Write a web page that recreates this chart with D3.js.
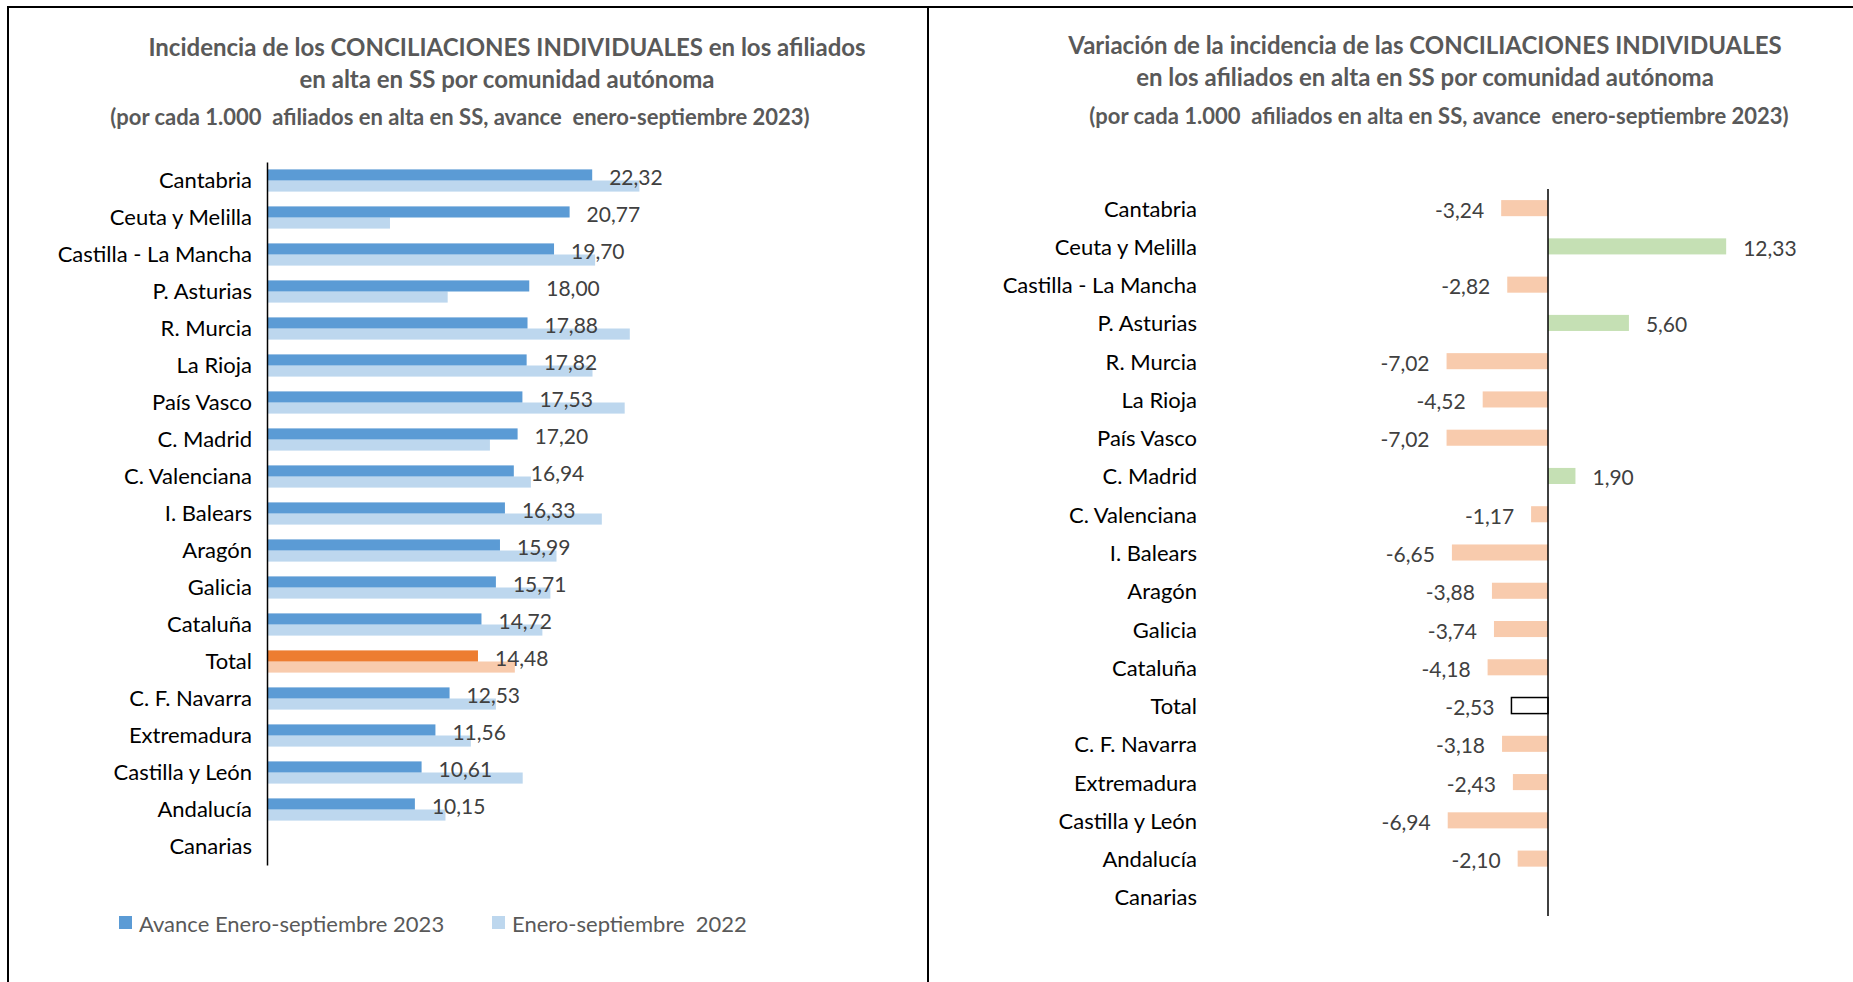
<!DOCTYPE html>
<html>
<head>
<meta charset="utf-8">
<script src="https://cdn.jsdelivr.net/npm/d3@7"></script>
<style>
  body { margin: 0; background: #fff; }
  text { font-family: Lato, "Noto Sans", sans-serif; white-space: pre; }
</style>
</head>
<body>
<div id="main"></div>
<script>
// categories, top to bottom
const regions = ["Cantabria", "Ceuta y Melilla", "Castilla - La Mancha", "P. Asturias", "R. Murcia",
    "La Rioja", "País Vasco", "C. Madrid", "C. Valenciana", "I. Balears", "Aragón", "Galicia",
    "Cataluña", "Total", "C. F. Navarra", "Extremadura", "Castilla y León", "Andalucía", "Canarias"];
// incidence Jan-Sep 2023 (null = no data)
const values2023 = [22.32, 20.77, 19.70, 18.00, 17.88, 17.82, 17.53, 17.20, 16.94, 16.33, 15.99, 15.71,
    14.72, 14.48, 12.53, 11.56, 10.61, 10.15, null];
// incidence Jan-Sep 2022
const values2022 = [25.56, 8.44, 22.52, 12.40, 24.90, 22.34, 24.55, 15.30, 18.11, 22.98, 19.87, 19.45,
    18.90, 17.01, 15.71, 13.99, 17.55, 12.25, null];
// variation 2023 vs 2022
const variation = [-3.24, 12.33, -2.82, 5.60, -7.02, -4.52, -7.02, 1.90, -1.17, -6.65, -3.88, -3.74,
    -4.18, -2.53, -3.18, -2.43, -6.94, -2.10, null];
const legendLabels = ["Avance Enero-septiembre 2023", "Enero-septiembre  2022"];

const ctx = {
    width: 1853,
    height: 982,
    darkBlue: "#5b9bd5",
    lightBlue: "#bdd7ee",
    orange: "#ed7d31",
    lightOrange: "#f8cbad",
    green: "#c5e0b4",
    titleGrey: "#595959",
    valueGrey: "#404040",
    labelSize: "22px",
    valueSize: "21px"
};

const fmt = v => d3.format(".2f")(v).replace(".", ",").replace("\u2212", "-");

function createViz(){
    let svg = d3.select("#main").append("svg")
        .attr("width", ctx.width)
        .attr("height", ctx.height);

    // frames
    svg.append("path")
        .attr("d", "M8,982 V7 H1853 M928,7 V982")
        .attr("fill", "none")
        .attr("stroke", "#000")
        .attr("stroke-width", 2);

    drawLeft(svg.append("g").attr("id", "leftG"));
    drawRight(svg.append("g").attr("id", "rightG"));
}

function titles(g, cx, lines, sub){
    g.selectAll(".title")
        .data(lines)
        .enter()
        .append("text")
        .attr("x", cx)
        .attr("y", (d, i) => lines.y + i * 32)
        .attr("text-anchor", "middle")
        .attr("dominant-baseline", "central")
        .attr("font-size", "24px")
        .attr("font-weight", "bold")
        .attr("fill", ctx.titleGrey)
        .text(d => d);
    g.append("text")
        .attr("x", sub.x)
        .attr("y", sub.y)
        .attr("text-anchor", "middle")
        .attr("dominant-baseline", "central")
        .attr("font-size", "22px")
        .attr("font-weight", "bold")
        .attr("fill", ctx.titleGrey)
        .text(sub.text);
}

//---------------------------------------------------------------------------------------------------------

function drawLeft(g){
    let t = ["Incidencia de los CONCILIACIONES INDIVIDUALES en los afiliados", "en alta en SS por comunidad autónoma"];
    t.y = 46;
    titles(g, 507, t, {x: 460, y: 116, text: "(por cada 1.000  afiliados en alta en SS, avance  enero-septiembre 2023)"});

    let x = d3.scaleLinear().domain([0, 30]).range([267, 267 + 30 * 14.57]);
    let y = d3.scaleBand().domain(regions).range([162, 865]).paddingInner(0.4).paddingOuter(0.2);
    let rows = regions.map((r, i) => ({r: r, v23: values2023[i], v22: values2022[i]}));
    let hasData = rows.filter(d => d.v23 !== null);
    let h = y.bandwidth() / 2;

    g.selectAll(".bar22")
        .data(hasData)
        .enter()
        .append("rect")
        .attr("x", x(0))
        .attr("y", d => y(d.r) + h)
        .attr("width", d => x(d.v22) - x(0))
        .attr("height", h)
        .attr("fill", d => d.r === "Total" ? ctx.lightOrange : ctx.lightBlue);
    g.selectAll(".bar23")
        .data(hasData)
        .enter()
        .append("rect")
        .attr("x", x(0))
        .attr("y", d => y(d.r))
        .attr("width", d => x(d.v23) - x(0))
        .attr("height", h)
        .attr("fill", d => d.r === "Total" ? ctx.orange : ctx.darkBlue);

    g.selectAll(".val")
        .data(hasData)
        .enter()
        .append("text")
        .attr("x", d => x(d.v23) + 17)
        .attr("y", d => y(d.r) + h * 0.65)
        .attr("dominant-baseline", "central")
        .attr("font-size", ctx.valueSize)
        .attr("fill", ctx.valueGrey)
        .text(d => fmt(d.v23));

    let axis = d3.axisLeft(y).tickSize(0).tickPadding(15);
    let ax = g.append("g").attr("transform", "translate(" + x(0) + ",0)").call(axis);
    ax.select(".domain").attr("stroke", "#000").attr("stroke-width", 1.5);
    ax.selectAll(".tick text")
        .attr("font-size", ctx.labelSize)
        .attr("font-family", "Lato, 'Noto Sans', sans-serif")
        .attr("fill", "#000");

    // legend
    let legendX = [119, 492];
    let leg = g.selectAll(".leg")
        .data(legendLabels)
        .enter()
        .append("g")
        .attr("transform", (d, i) => "translate(" + legendX[i] + ",923)");
    leg.append("rect")
        .attr("x", 0)
        .attr("y", -7)
        .attr("width", 13)
        .attr("height", 13)
        .attr("fill", (d, i) => i === 0 ? ctx.darkBlue : ctx.lightBlue);
    leg.append("text")
        .attr("x", 20)
        .attr("y", 0)
        .attr("dominant-baseline", "central")
        .attr("font-size", ctx.labelSize)
        .attr("fill", ctx.titleGrey)
        .text(d => d);
}

//---------------------------------------------------------------------------------------------------------

function drawRight(g){
    let t = ["Variación de la incidencia de las CONCILIACIONES INDIVIDUALES", "en los afiliados en alta en SS por comunidad autónoma"];
    t.y = 44;
    titles(g, 1425, t, {x: 1439, y: 115, text: "(por cada 1.000  afiliados en alta en SS, avance  enero-septiembre 2023)"});

    let x = d3.scaleLinear().domain([-8, 14]).range([1548 - 8 * 14.45, 1548 + 14 * 14.45]);
    let y = d3.scaleBand().domain(regions).range([189, 916]).paddingInner(0.58).paddingOuter(0.29);
    let rows = regions.map((r, i) => ({r: r, v: variation[i]}));
    let hasData = rows.filter(d => d.v !== null);

    g.selectAll(".var")
        .data(hasData)
        .enter()
        .append("rect")
        .attr("x", d => x(Math.min(0, d.v)))
        .attr("y", d => y(d.r))
        .attr("width", d => Math.abs(x(d.v) - x(0)))
        .attr("height", y.bandwidth())
        .attr("fill", d => d.r === "Total" ? "#fff" : (d.v < 0 ? ctx.lightOrange : ctx.green))
        .attr("stroke", d => d.r === "Total" ? "#000" : "none")
        .attr("stroke-width", 1.5);

    g.selectAll(".val")
        .data(hasData)
        .enter()
        .append("text")
        .attr("x", d => d.v < 0 ? x(d.v) - 17 : x(d.v) + 17)
        .attr("y", d => y(d.r) + y.bandwidth() / 2 + 1)
        .attr("text-anchor", d => d.v < 0 ? "end" : "start")
        .attr("dominant-baseline", "central")
        .attr("font-size", ctx.valueSize)
        .attr("fill", ctx.valueGrey)
        .text(d => fmt(d.v));

    // category labels sit well to the left of the axis
    g.selectAll(".cat")
        .data(regions)
        .enter()
        .append("text")
        .attr("x", 1197)
        .attr("y", d => y(d) + y.bandwidth() / 2)
        .attr("text-anchor", "end")
        .attr("dominant-baseline", "central")
        .attr("font-size", ctx.labelSize)
        .attr("fill", "#000")
        .text(d => d);

    g.append("line")
        .attr("x1", x(0)).attr("x2", x(0))
        .attr("y1", 189).attr("y2", 916)
        .attr("stroke", "#000")
        .attr("stroke-width", 1.5);
}

createViz();
</script>
</body>
</html>
